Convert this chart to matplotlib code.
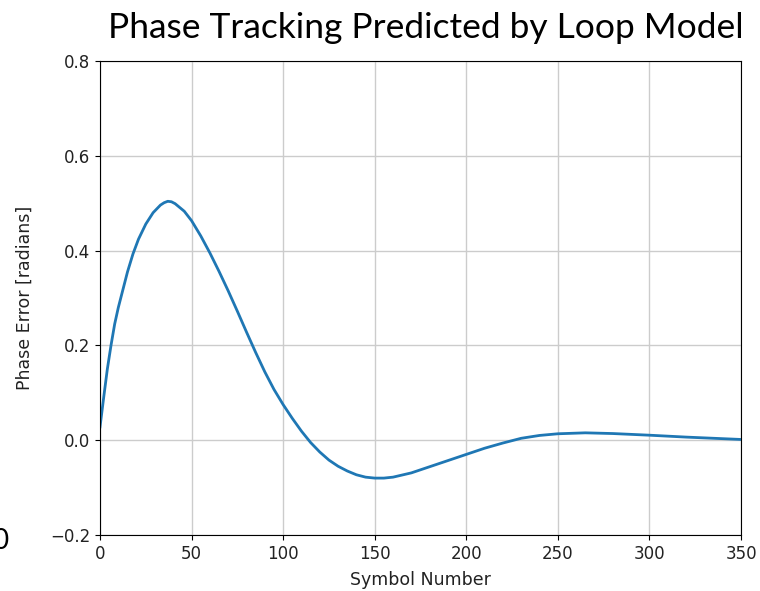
import numpy as np
import matplotlib.pyplot as plt

# values
symbol = [0, 2, 4, 6, 8, 10, 12, 15, 18, 21, 25, 29, 33, 35, 37, 39, 41, 46,
          50, 55, 60, 65, 70, 75, 80, 85, 90, 95, 100, 105, 110, 115, 120,
          125, 130, 135, 140, 145, 150, 155, 160, 170, 180, 190, 200, 210,
          220, 230, 240, 250, 265, 280, 300, 320, 350]
phase_err = [0.028, 0.09, 0.15, 0.20, 0.245, 0.28, 0.31, 0.355, 0.393, 0.424,
             0.456, 0.480, 0.496, 0.501, 0.504, 0.503, 0.499, 0.483, 0.463,
             0.431, 0.395, 0.356, 0.315, 0.272, 0.228, 0.185, 0.144, 0.107,
             0.075, 0.046, 0.019, -0.005, -0.025, -0.042, -0.055, -0.065,
             -0.073, -0.078, -0.080, -0.080, -0.078, -0.069, -0.056, -0.043,
             -0.030, -0.017, -0.006, 0.004, 0.010, 0.0135, 0.0155, 0.014,
             0.0105, 0.0065, 0.0015]

xticks = [0, 50, 100, 150, 200, 250, 300, 350]
yticks = [-0.2, 0.0, 0.2, 0.4, 0.6, 0.8]

fig = plt.figure(figsize=(7.6, 5.91), dpi=100)
ax = fig.add_axes([0.1316, 0.0948, 0.8434, 0.802])

ax.plot(symbol, phase_err, color='#1f77b4', lw=2)
ax.set_xlim(0, 350)
ax.set_ylim(-0.2, 0.8)
ax.set_xticks(xticks)
ax.set_yticks(yticks)
ax.tick_params(labelsize=12, labelcolor='#222222')
ax.grid(True, color='#cccccc', lw=1)
ax.set_xlabel('Symbol Number', fontsize=12.5, color='#222222', labelpad=6)
ax.set_ylabel('Phase Error [radians]', fontsize=12.5, color='#222222', labelpad=12)

fig.text(0.56, 0.952, 'Phase Tracking Predicted by Loop Model',
         ha='center', va='center', fontsize=25.5, family='Lato')
fig.text(0.011, 0.0846, '0', ha='right', va='center', fontsize=20, family='Lato')

fig.savefig('out.png', dpi=100)
